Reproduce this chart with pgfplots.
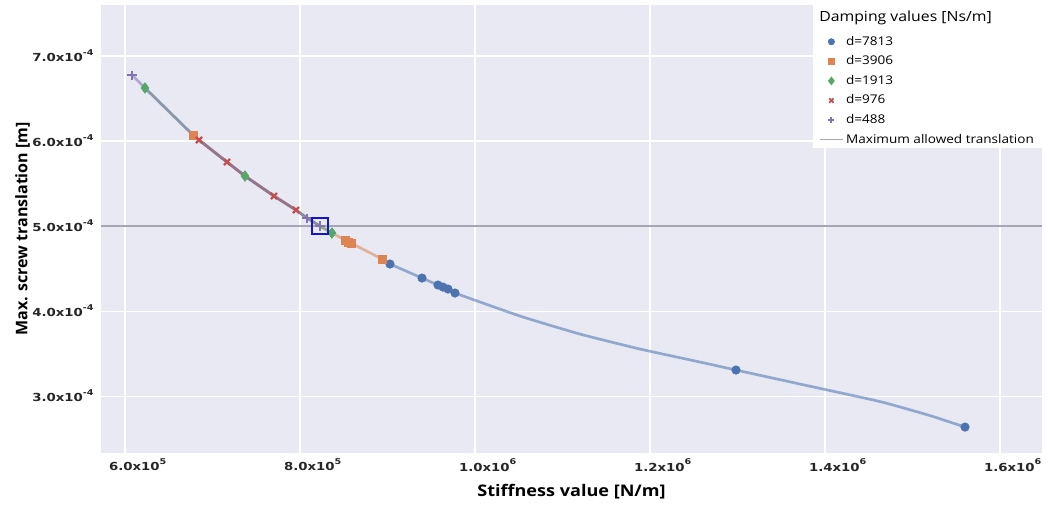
\documentclass[border=0pt]{standalone}
\usepackage{pgfplots}
\pgfplotsset{compat=1.18}
\usepackage{fontspec}
\setmainfont{Open Sans}
\newfontfamily\wide[FakeStretch=1.13]{Open Sans}
\newfontfamily\tickf[FakeStretch=1.2]{DejaVu Sans}
\definecolor{bgc}{RGB}{232,233,243}
\definecolor{cb}{RGB}{76,114,176}
\definecolor{co}{RGB}{221,132,82}
\definecolor{cg}{RGB}{85,168,104}
\definecolor{cr}{RGB}{196,78,82}
\definecolor{cp}{RGB}{129,114,179}
\definecolor{hl}{RGB}{165,165,180}
\definecolor{hb}{RGB}{20,20,200}
\newcommand{\sps}[1]{\raisebox{0.55em}{\fontsize{6}{6}\selectfont #1}}
\begin{document}
\begin{tikzpicture}
\begin{axis}[
  name=ax, scale only axis, width=705.75pt, height=336pt,
  xmin=572600, xmax=1648000, ymin=2.33e-4, ymax=7.6e-4,
  axis background/.style={fill=bgc},
  axis line style={draw=none}, major tick length=0pt,
  grid=major, grid style={white, line width=0.8pt},
  scaled ticks=false,
  xtick={600000,800000,1000000,1200000,1400000,1600000},
  xticklabels={6.0x10\sps{5},8.0x10\sps{5},1.0x10\sps{6},1.2x10\sps{6},1.4x10\sps{6},1.6x10\sps{6}},
  ytick={3e-4,4e-4,5e-4,6e-4,7e-4},
  yticklabels={3.0x10\sps{-4},4.0x10\sps{-4},5.0x10\sps{-4},6.0x10\sps{-4},7.0x10\sps{-4}},
  ticklabel style={font=\tickf\bfseries\fontsize{8.3}{9}\selectfont, text=black!85},
  xticklabel style={xshift=9.5pt, yshift=-1pt},
  yticklabel style={xshift=-2pt},
  xlabel={Stiffness value [N/m]},
  xlabel style={font=\wide\bfseries\fontsize{12}{14}\selectfont, yshift=-3pt},
  ylabel={Max. screw translation [m]},
  ylabel style={font=\bfseries\fontsize{12}{14}\selectfont, yshift=-5pt},
  legend style={at={(0.7588,0.9464)}, anchor=north west, fill=none, draw=none,
    font=\wide\fontsize{9}{11}\selectfont, cells={anchor=west},
    nodes={text height=7pt, text depth=2pt, inner ysep=2.85pt, inner xsep=2pt},
    row sep=0pt},
  legend image code/.code={\draw[mark repeat=2,mark phase=2] plot coordinates {(0pt,0pt) (8.5pt,0pt) (17pt,0pt)};},
]
% legend background and title
\fill[white] (rel axis cs:0.7567,0.6808) rectangle (rel axis cs:1,1);
\node[anchor=west, font=\wide\fontsize{10.5}{12}\selectfont, inner sep=0pt] at (rel axis cs:0.763,0.971) {Damping values [Ns/m]};

% maximum allowed translation
\addplot[hl, line width=1.3pt, forget plot] coordinates {(572600,5e-4) (1648000,5e-4)};

% series lines
\addplot[cb, opacity=0.55, line width=2pt, smooth, tension=0.3, forget plot] coordinates {
(902857,4.553e-4) (939429,4.388e-4) (957714,4.306e-4) (963429,4.282e-4) (969143,4.259e-4) (977143,4.212e-4)
(1051429,3.941e-4) (1120000,3.729e-4) (1188571,3.553e-4) (1257143,3.400e-4) (1298286,3.306e-4)
(1371429,3.141e-4) (1462857,2.935e-4) (1520000,2.770e-4) (1560000,2.635e-4)};
\addplot[co, opacity=0.55, line width=2pt, forget plot] coordinates {
(677714,6.071e-4) (684571,6.012e-4) (716571,5.753e-4) (737143,5.588e-4) (770286,5.353e-4) (795429,5.188e-4)
(808000,5.094e-4) (822857,5.000e-4) (836571,4.918e-4) (851429,4.835e-4) (854857,4.812e-4) (858286,4.800e-4) (893714,4.612e-4)};
\addplot[cg, opacity=0.55, line width=2pt, forget plot] coordinates {
(622857,6.624e-4) (677714,6.071e-4) (684571,6.012e-4) (716571,5.753e-4) (737143,5.588e-4) (770286,5.353e-4)
(795429,5.188e-4) (808000,5.094e-4) (822857,5.000e-4) (836571,4.918e-4)};
\addplot[cr, opacity=0.55, line width=2pt, forget plot] coordinates {
(684571,6.012e-4) (716571,5.753e-4) (737143,5.588e-4) (770286,5.353e-4) (795429,5.188e-4)};
\addplot[cp, opacity=0.55, line width=2pt, forget plot] coordinates {
(608000,6.776e-4) (622857,6.624e-4) (677714,6.071e-4) (684571,6.012e-4) (716571,5.753e-4) (737143,5.588e-4)
(770286,5.353e-4) (795429,5.188e-4) (808000,5.094e-4) (822857,5.000e-4)};

% series markers
\addplot[only marks, mark=*, mark size=3.2pt, cb, forget plot] coordinates {
(902857,4.553e-4) (939429,4.388e-4) (957714,4.306e-4) (963429,4.282e-4) (969143,4.259e-4) (977143,4.212e-4)
(1298286,3.306e-4) (1560000,2.635e-4)};
\addplot[only marks, mark=square*, mark size=3pt, co, forget plot] coordinates {
(677714,6.071e-4) (851429,4.835e-4) (854857,4.812e-4) (858286,4.800e-4) (893714,4.612e-4)};
\addplot[only marks, mark=diamond*, mark size=4pt, cg, forget plot] coordinates {
(622857,6.624e-4) (737143,5.588e-4) (836571,4.918e-4)};
\addplot[only marks, mark=x, mark size=3.2pt, line width=1.7pt, cr, forget plot] coordinates {
(684571,6.012e-4) (716571,5.753e-4) (770286,5.353e-4) (795429,5.188e-4)};
\addplot[only marks, mark=+, mark size=3.4pt, line width=1.9pt, cp, forget plot] coordinates {
(608000,6.776e-4) (808000,5.094e-4) (822857,5.000e-4)};

% highlighted design point
\addplot[only marks, mark=square, mark size=6pt, hb, line width=1.7pt, forget plot] coordinates {(822857,5.000e-4)};

% legend
\addlegendimage{only marks, mark=*, mark size=2.4pt, cb}
\addlegendentry{d=7813}
\addlegendimage{only marks, mark=square*, mark size=2.3pt, co}
\addlegendentry{d=3906}
\addlegendimage{only marks, mark=diamond*, mark size=3pt, cg}
\addlegendentry{d=1913}
\addlegendimage{only marks, mark=x, mark size=2.3pt, line width=1.3pt, cr}
\addlegendentry{d=976}
\addlegendimage{only marks, mark=+, mark size=2.3pt, line width=1.4pt, cp}
\addlegendentry{d=488}
\addlegendimage{hl, line width=1.1pt, legend image code/.code={\draw (0pt,0pt) -- (17pt,0pt);}}
\addlegendentry{Maximum allowed translation}
\end{axis}
\pgfresetboundingbox
\path[use as bounding box] ([xshift=-75.75pt,yshift=-43.5pt]ax.south west) rectangle ([xshift=4.5pt,yshift=3.75pt]ax.north east);
\end{tikzpicture}
\end{document}
